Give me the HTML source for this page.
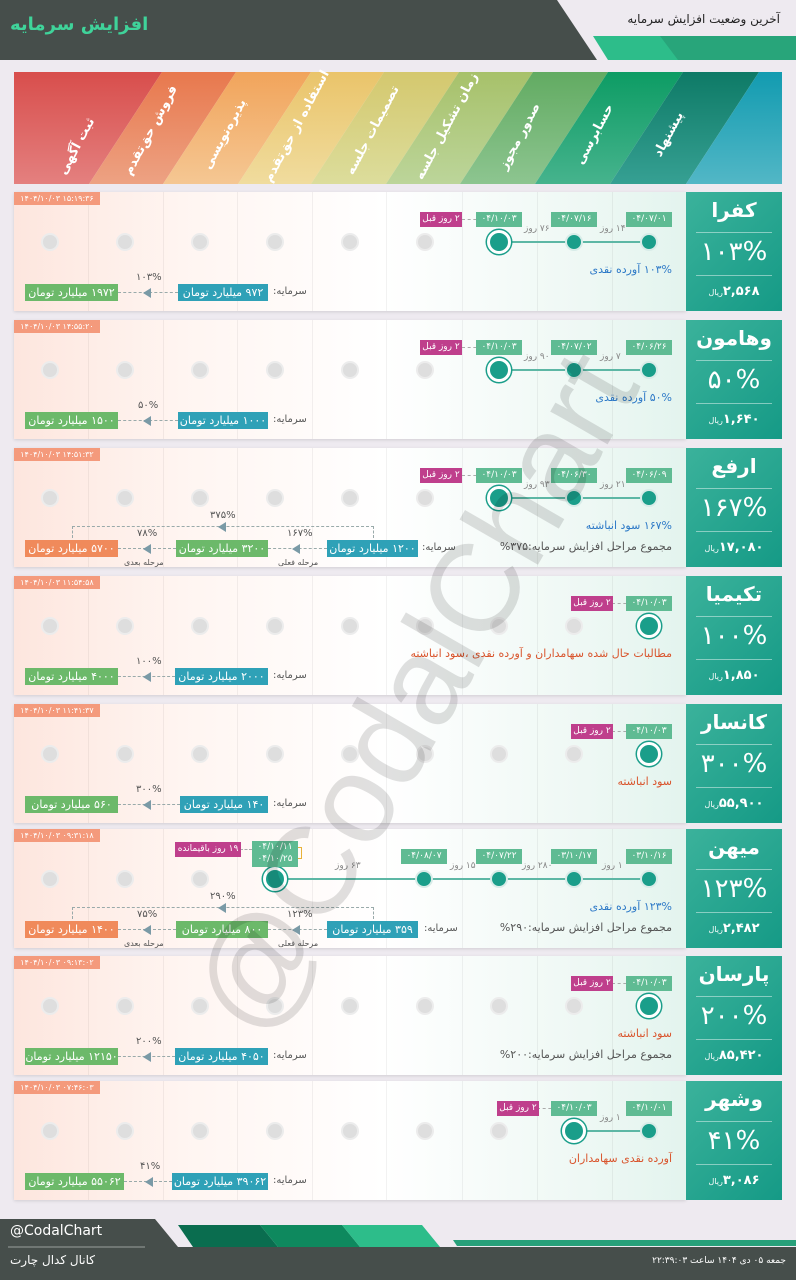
<!DOCTYPE html>
<html><head><meta charset="utf-8">
<style>
*{margin:0;padding:0;box-sizing:border-box}
body{width:796px;height:1280px;background:#eeeaf0;position:relative;overflow:hidden;font-family:"DejaVu Sans","Liberation Sans",sans-serif}
.a{position:absolute}
.card{position:absolute;left:0;width:796px;height:119px}
.bg{position:absolute;left:14px;top:0;width:672px;height:119px;background:linear-gradient(90deg,#fde6de 0%,#fff5f1 25%,#ffffff 55%,#eef8f4 85%,#e3f4ee 100%);box-shadow:0 1px 3px rgba(0,0,0,.12)}
.vl{position:absolute;top:0;width:1px;height:119px;background:rgba(0,0,0,.05)}
.box{position:absolute;left:686px;top:0;width:96px;height:119px;background:linear-gradient(135deg,#3bb29b,#159a86);color:#fff;text-align:center}
.nm{position:absolute;top:6px;left:0;width:96px;font-size:20px;font-weight:bold}
.hr{position:absolute;left:10px;width:76px;height:1px;background:rgba(255,255,255,.45)}
.pc{position:absolute;top:45px;left:0;width:96px;font-size:26px}
.pr{position:absolute;top:92px;left:0;width:96px;font-size:13px;font-weight:bold;direction:rtl}
.pr small{font-size:8px;font-weight:normal}
.ts{position:absolute;left:14px;top:0;width:86px;height:13px;background:#f49a7c;color:#fff;font-size:8px;line-height:13px;text-align:center}
.t{position:absolute;height:15px;line-height:15px;font-size:9px;color:#fff;text-align:center;white-space:nowrap;direction:rtl}
.dt{background:#5fbb93;width:46px}
.mg{background:#bf3f8c;width:42px}
.g{position:absolute;top:41px;width:18px;height:18px;border-radius:50%;background:#dedede;border:2px solid #ececec}
.d{position:absolute;top:41px;width:18px;height:18px;border-radius:50%;background:#1a9e8a;border:2px solid #d8ece8}
.b{position:absolute;top:38px;width:24px;height:24px;border-radius:50%;background:#1a9e8a;border:3px solid #fff;box-shadow:0 0 0 1.5px #1a9e8a}
.ln{position:absolute;top:49px;height:2px;background:#5db7a5}
.dl{position:absolute;font-size:9px;color:#888;top:32px;white-space:nowrap;direction:rtl}
.sm{position:absolute;right:124px;top:71px;font-size:11px;color:#2d79c7;direction:rtl;white-space:nowrap}
.sm2{position:absolute;right:124px;top:92px;font-size:11px;color:#555;direction:rtl;white-space:nowrap}
.cp{position:absolute;top:92px;height:17px;line-height:17px;font-size:11px;color:#fff;text-align:center;direction:rtl;white-space:nowrap}
.bl{background:#2fa1b7}.gr{background:#6cb96a}.or{background:#f08a5b}
.lab{position:absolute;font-size:10px;color:#555;direction:rtl;white-space:nowrap}
.ar{position:absolute;top:100px;border-top:1px dashed #9aa}
.tri{position:absolute;top:96px;width:0;height:0;border-top:5px solid transparent;border-bottom:5px solid transparent;border-right:8px solid #7a9aa6}
.sub{position:absolute;top:110px;font-size:8px;color:#555;white-space:nowrap;direction:rtl}
.cd{border-top:1px dashed #aaa;position:absolute;top:27px;height:0}
</style></head><body>

<!-- header -->
<svg class="a" style="left:0;top:0" width="796" height="62">
<polygon points="0,0 557,0 597,60 0,60" fill="#464e4b"/>
<polygon points="593,36 796,36 796,60 608,60" fill="#2dbd8a"/>
<polygon points="660,36 796,36 796,60 678,60" fill="#28a57a"/>
</svg>
<div class="a" style="left:10px;top:14px;font-size:18px;font-weight:bold;color:#3fd39a;direction:rtl">افزایش سرمایه</div>
<div class="a" style="right:16px;top:12px;font-size:12px;color:#222;direction:rtl">آخرین وضعیت افزایش سرمایه</div>

<!-- banner -->
<svg class="a" style="left:0;top:0" width="796" height="190">
<defs>
<linearGradient id="g0" x1="0" y1="0" x2="0" y2="1"><stop offset="0" stop-color="#d84e4c"/><stop offset="1" stop-color="#e4807f"/></linearGradient>
<linearGradient id="g1" x1="0" y1="0" x2="0" y2="1"><stop offset="0" stop-color="#e8784d"/><stop offset="1" stop-color="#eda283"/></linearGradient>
<linearGradient id="g2" x1="0" y1="0" x2="0" y2="1"><stop offset="0" stop-color="#f1a45b"/><stop offset="1" stop-color="#f5c793"/></linearGradient>
<linearGradient id="g3" x1="0" y1="0" x2="0" y2="1"><stop offset="0" stop-color="#eac46a"/><stop offset="1" stop-color="#f0dc9e"/></linearGradient>
<linearGradient id="g4" x1="0" y1="0" x2="0" y2="1"><stop offset="0" stop-color="#d4c86e"/><stop offset="1" stop-color="#dcdd9c"/></linearGradient>
<linearGradient id="g5" x1="0" y1="0" x2="0" y2="1"><stop offset="0" stop-color="#a7c16a"/><stop offset="1" stop-color="#bcd59a"/></linearGradient>
<linearGradient id="g6" x1="0" y1="0" x2="0" y2="1"><stop offset="0" stop-color="#62ab62"/><stop offset="1" stop-color="#8dc590"/></linearGradient>
<linearGradient id="g7" x1="0" y1="0" x2="0" y2="1"><stop offset="0" stop-color="#0d9c64"/><stop offset="1" stop-color="#46b38d"/></linearGradient>
<linearGradient id="g8" x1="0" y1="0" x2="0" y2="1"><stop offset="0" stop-color="#0e7a66"/><stop offset="1" stop-color="#36a093"/></linearGradient>
<linearGradient id="g9" x1="0" y1="0" x2="0" y2="1"><stop offset="0" stop-color="#129bb0"/><stop offset="1" stop-color="#52b7c6"/></linearGradient>
</defs>
<polygon points="14,72 162,72 89,184 14,184" fill="url(#g0)"/>
<polygon points="162,72 236,72 163,184 89,184" fill="url(#g1)"/>
<polygon points="236,72 311,72 238,184 163,184" fill="url(#g2)"/>
<polygon points="311,72 384,72 311,184 238,184" fill="url(#g3)"/>
<polygon points="384,72 459,72 386,184 311,184" fill="url(#g4)"/>
<polygon points="459,72 533,72 460,184 386,184" fill="url(#g5)"/>
<polygon points="533,72 608,72 535,184 460,184" fill="url(#g6)"/>
<polygon points="608,72 683,72 610,184 535,184" fill="url(#g7)"/>
<polygon points="683,72 759,72 686,184 610,184" fill="url(#g8)"/>
<polygon points="759,72 782,72 782,184 686,184" fill="url(#g9)"/>
<g fill="#fff" font-size="13" font-weight="bold" text-anchor="middle" font-family="DejaVu Sans,sans-serif" direction="rtl">
<text transform="translate(80,148) rotate(-62)">ثبت آگهی</text>
<text transform="translate(154,132) rotate(-62)">فروش حق‌تقدم</text>
<text transform="translate(228,136) rotate(-62)">پذیره‌نویسی</text>
<text transform="translate(300,128) rotate(-62)">استفاده از حق‌تقدم</text>
<text transform="translate(376,132) rotate(-62)">تصمیمات جلسه</text>
<text transform="translate(450,128) rotate(-62)">زمان تشکیل جلسه</text>
<text transform="translate(523,138) rotate(-62)">صدور مجوز</text>
<text transform="translate(598,136) rotate(-62)">حسابرسی</text>
<text transform="translate(672,136) rotate(-62)">پیشنهاد</text>
</g>
</svg>

<!-- CARD 1 -->
<div class="card" style="top:192px">
<div class="bg"></div>
<div class="vl" style="left:88px"></div><div class="vl" style="left:163px"></div><div class="vl" style="left:237px"></div><div class="vl" style="left:312px"></div><div class="vl" style="left:386px"></div><div class="vl" style="left:462px"></div><div class="vl" style="left:537px"></div><div class="vl" style="left:612px"></div>
<div class="ts">۱۴۰۴/۱۰/۰۳ ۱۵:۱۹:۳۶</div>
<div class="g" style="left:41px"></div><div class="g" style="left:116px"></div><div class="g" style="left:191px"></div><div class="g" style="left:266px"></div><div class="g" style="left:341px"></div><div class="g" style="left:416px"></div>
<div class="ln" style="left:499px;width:150px"></div>
<div class="b" style="left:487px"></div><div class="d" style="left:565px"></div><div class="d" style="left:640px"></div>
<div class="dl" style="left:524px">۷۶ روز</div><div class="dl" style="left:600px">۱۴ روز</div>
<div class="cd" style="left:462px;width:20px"></div>
<div class="t dt" style="left:476px;top:20px">۰۴/۱۰/۰۳</div><div class="t dt" style="left:551px;top:20px">۰۴/۰۷/۱۶</div><div class="t dt" style="left:626px;top:20px">۰۴/۰۷/۰۱</div>
<div class="t mg" style="left:420px;top:20px">۲ روز قبل</div>
<div class="sm">۱۰۳% آورده نقدی</div>
<div class="lab" style="left:273px;top:94px">سرمایه:</div>
<div class="cp bl" style="left:178px;width:90px">۹۷۲ میلیارد تومان</div>
<div class="ar" style="left:118px;width:60px"></div><div class="tri" style="left:143px"></div>
<div class="lab" style="left:136px;top:80px">۱۰۳%</div>
<div class="cp gr" style="left:25px;width:93px">۱۹۷۲ میلیارد تومان</div>
<div class="box"><div class="nm">کفرا</div><div class="hr" style="top:40px"></div><div class="pc">۱۰۳%</div><div class="hr" style="top:83px"></div><div class="pr">۲,۵۶۸<small>ریال</small></div></div>
</div>

<!-- CARD 2 -->
<div class="card" style="top:320px">
<div class="bg"></div>
<div class="vl" style="left:88px"></div><div class="vl" style="left:163px"></div><div class="vl" style="left:237px"></div><div class="vl" style="left:312px"></div><div class="vl" style="left:386px"></div><div class="vl" style="left:462px"></div><div class="vl" style="left:537px"></div><div class="vl" style="left:612px"></div>
<div class="ts">۱۴۰۴/۱۰/۰۳ ۱۴:۵۵:۲۰</div>
<div class="g" style="left:41px"></div><div class="g" style="left:116px"></div><div class="g" style="left:191px"></div><div class="g" style="left:266px"></div><div class="g" style="left:341px"></div><div class="g" style="left:416px"></div>
<div class="ln" style="left:499px;width:150px"></div>
<div class="b" style="left:487px"></div><div class="d" style="left:565px"></div><div class="d" style="left:640px"></div>
<div class="dl" style="left:524px">۹۰ روز</div><div class="dl" style="left:600px">۷ روز</div>
<div class="cd" style="left:462px;width:20px"></div>
<div class="t dt" style="left:476px;top:20px">۰۴/۱۰/۰۳</div><div class="t dt" style="left:551px;top:20px">۰۴/۰۷/۰۲</div><div class="t dt" style="left:626px;top:20px">۰۴/۰۶/۲۶</div>
<div class="t mg" style="left:420px;top:20px">۲ روز قبل</div>
<div class="sm">۵۰% آورده نقدی</div>
<div class="lab" style="left:273px;top:94px">سرمایه:</div>
<div class="cp bl" style="left:178px;width:90px">۱۰۰۰ میلیارد تومان</div>
<div class="ar" style="left:118px;width:60px"></div><div class="tri" style="left:143px"></div>
<div class="lab" style="left:138px;top:80px">۵۰%</div>
<div class="cp gr" style="left:25px;width:93px">۱۵۰۰ میلیارد تومان</div>
<div class="box"><div class="nm">وهامون</div><div class="hr" style="top:40px"></div><div class="pc">۵۰%</div><div class="hr" style="top:83px"></div><div class="pr">۱,۶۴۰<small>ریال</small></div></div>
</div>

<!-- CARD 3 -->
<div class="card" style="top:448px">
<div class="bg"></div>
<div class="vl" style="left:88px"></div><div class="vl" style="left:163px"></div><div class="vl" style="left:237px"></div><div class="vl" style="left:312px"></div><div class="vl" style="left:386px"></div><div class="vl" style="left:462px"></div><div class="vl" style="left:537px"></div><div class="vl" style="left:612px"></div>
<div class="ts">۱۴۰۴/۱۰/۰۳ ۱۴:۵۱:۳۲</div>
<div class="g" style="left:41px"></div><div class="g" style="left:116px"></div><div class="g" style="left:191px"></div><div class="g" style="left:266px"></div><div class="g" style="left:341px"></div><div class="g" style="left:416px"></div>
<div class="ln" style="left:499px;width:150px"></div>
<div class="b" style="left:487px"></div><div class="d" style="left:565px"></div><div class="d" style="left:640px"></div>
<div class="dl" style="left:524px">۹۳ روز</div><div class="dl" style="left:600px">۲۱ روز</div>
<div class="cd" style="left:462px;width:20px"></div>
<div class="t dt" style="left:476px;top:20px">۰۴/۱۰/۰۳</div><div class="t dt" style="left:551px;top:20px">۰۴/۰۶/۳۰</div><div class="t dt" style="left:626px;top:20px">۰۴/۰۶/۰۹</div>
<div class="t mg" style="left:420px;top:20px">۲ روز قبل</div>
<div class="sm">۱۶۷% سود انباشته</div>
<div class="sm2">مجموع مراحل افزایش سرمایه:۳۷۵%</div>
<div class="a" style="left:72px;top:78px;width:302px;height:12px;border:1px dashed #9aa;border-bottom:none"></div>
<div class="tri" style="left:218px;top:74px"></div>
<div class="lab" style="left:210px;top:62px">۳۷۵%</div>
<div class="lab" style="left:422px;top:94px">سرمایه:</div>
<div class="cp bl" style="left:327px;width:91px">۱۲۰۰ میلیارد تومان</div>
<div class="ar" style="left:268px;width:59px"></div><div class="tri" style="left:292px"></div>
<div class="lab" style="left:287px;top:80px">۱۶۷%</div><div class="sub" style="left:278px">مرحله فعلی</div>
<div class="cp gr" style="left:176px;width:92px">۳۲۰۰ میلیارد تومان</div>
<div class="ar" style="left:118px;width:58px"></div><div class="tri" style="left:143px"></div>
<div class="lab" style="left:137px;top:80px">۷۸%</div><div class="sub" style="left:124px">مرحله بعدی</div>
<div class="cp or" style="left:25px;width:93px">۵۷۰۰ میلیارد تومان</div>
<div class="box"><div class="nm">ارفع</div><div class="hr" style="top:40px"></div><div class="pc">۱۶۷%</div><div class="hr" style="top:83px"></div><div class="pr">۱۷,۰۸۰<small>ریال</small></div></div>
</div>

<!-- CARD 4 -->
<div class="card" style="top:576px">
<div class="bg"></div>
<div class="vl" style="left:88px"></div><div class="vl" style="left:163px"></div><div class="vl" style="left:237px"></div><div class="vl" style="left:312px"></div><div class="vl" style="left:386px"></div><div class="vl" style="left:462px"></div><div class="vl" style="left:537px"></div><div class="vl" style="left:612px"></div>
<div class="ts">۱۴۰۴/۱۰/۰۳ ۱۱:۵۴:۵۸</div>
<div class="g" style="left:41px"></div><div class="g" style="left:116px"></div><div class="g" style="left:191px"></div><div class="g" style="left:266px"></div><div class="g" style="left:341px"></div><div class="g" style="left:416px"></div><div class="g" style="left:490px"></div><div class="g" style="left:565px"></div>
<div class="b" style="left:637px"></div>
<div class="cd" style="left:612px;width:20px"></div>
<div class="t dt" style="left:626px;top:20px">۰۴/۱۰/۰۳</div>
<div class="t mg" style="left:571px;top:20px">۲ روز قبل</div>
<div class="sm" style="color:#d9542c">مطالبات حال شده سهامداران و آورده نقدی ،سود انباشته</div>
<div class="lab" style="left:273px;top:94px">سرمایه:</div>
<div class="cp bl" style="left:175px;width:93px">۲۰۰۰ میلیارد تومان</div>
<div class="ar" style="left:118px;width:57px"></div><div class="tri" style="left:143px"></div>
<div class="lab" style="left:136px;top:80px">۱۰۰%</div>
<div class="cp gr" style="left:25px;width:93px">۴۰۰۰ میلیارد تومان</div>
<div class="box"><div class="nm">تکیمیا</div><div class="hr" style="top:40px"></div><div class="pc">۱۰۰%</div><div class="hr" style="top:83px"></div><div class="pr">۱,۸۵۰<small>ریال</small></div></div>
</div>

<!-- CARD 5 -->
<div class="card" style="top:704px">
<div class="bg"></div>
<div class="vl" style="left:88px"></div><div class="vl" style="left:163px"></div><div class="vl" style="left:237px"></div><div class="vl" style="left:312px"></div><div class="vl" style="left:386px"></div><div class="vl" style="left:462px"></div><div class="vl" style="left:537px"></div><div class="vl" style="left:612px"></div>
<div class="ts">۱۴۰۴/۱۰/۰۳ ۱۱:۴۱:۳۷</div>
<div class="g" style="left:41px"></div><div class="g" style="left:116px"></div><div class="g" style="left:191px"></div><div class="g" style="left:266px"></div><div class="g" style="left:341px"></div><div class="g" style="left:416px"></div><div class="g" style="left:490px"></div><div class="g" style="left:565px"></div>
<div class="b" style="left:637px"></div>
<div class="cd" style="left:612px;width:20px"></div>
<div class="t dt" style="left:626px;top:20px">۰۴/۱۰/۰۳</div>
<div class="t mg" style="left:571px;top:20px">۲ روز قبل</div>
<div class="sm" style="color:#d9542c">سود انباشته</div>
<div class="lab" style="left:273px;top:94px">سرمایه:</div>
<div class="cp bl" style="left:180px;width:88px">۱۴۰ میلیارد تومان</div>
<div class="ar" style="left:118px;width:62px"></div><div class="tri" style="left:143px"></div>
<div class="lab" style="left:136px;top:80px">۳۰۰%</div>
<div class="cp gr" style="left:25px;width:93px">۵۶۰ میلیارد تومان</div>
<div class="box"><div class="nm">کانسار</div><div class="hr" style="top:40px"></div><div class="pc">۳۰۰%</div><div class="hr" style="top:83px"></div><div class="pr">۵۵,۹۰۰<small>ریال</small></div></div>
</div>

<!-- CARD 6 -->
<div class="card" style="top:829px">
<div class="bg"></div>
<div class="vl" style="left:88px"></div><div class="vl" style="left:163px"></div><div class="vl" style="left:237px"></div><div class="vl" style="left:312px"></div><div class="vl" style="left:386px"></div><div class="vl" style="left:462px"></div><div class="vl" style="left:537px"></div><div class="vl" style="left:612px"></div>
<div class="ts">۱۴۰۴/۱۰/۰۳ ۰۹:۳۱:۱۸</div>
<div class="g" style="left:41px"></div><div class="g" style="left:116px"></div><div class="g" style="left:191px"></div>
<div class="ln" style="left:275px;width:374px"></div>
<div class="b" style="left:263px"></div><div class="d" style="left:415px"></div><div class="d" style="left:490px"></div><div class="d" style="left:565px"></div><div class="d" style="left:640px"></div>
<div class="dl" style="left:335px">۶۳ روز</div><div class="dl" style="left:450px">۱۵ روز</div><div class="dl" style="left:522px">۲۸۰ روز</div><div class="dl" style="left:602px">۱ روز</div>
<div class="t dt" style="left:252px;top:12px;height:26px;line-height:12px;font-size:9px">۰۴/۱۰/۱۱<br>۰۴/۱۰/۲۵</div>
<div class="a" style="left:298px;top:18px;width:4px;height:12px;border:1px solid #e8b23a;border-left:none"></div>
<div class="cd" style="left:240px;width:12px;top:20px"></div>
<div class="t" style="left:175px;top:13px;width:66px;background:#bf3f8c">۱۹ روز باقیمانده</div>
<div class="t dt" style="left:401px;top:20px">۰۴/۰۸/۰۷</div><div class="t dt" style="left:476px;top:20px">۰۴/۰۷/۲۲</div><div class="t dt" style="left:551px;top:20px">۰۳/۱۰/۱۷</div><div class="t dt" style="left:626px;top:20px">۰۳/۱۰/۱۶</div>
<div class="sm">۱۲۳% آورده نقدی</div>
<div class="sm2">مجموع مراحل افزایش سرمایه:۲۹۰%</div>
<div class="a" style="left:72px;top:78px;width:302px;height:12px;border:1px dashed #9aa;border-bottom:none"></div>
<div class="tri" style="left:218px;top:74px"></div>
<div class="lab" style="left:210px;top:62px">۲۹۰%</div>
<div class="lab" style="left:424px;top:94px">سرمایه:</div>
<div class="cp bl" style="left:327px;width:91px">۳۵۹ میلیارد تومان</div>
<div class="ar" style="left:268px;width:59px"></div><div class="tri" style="left:292px"></div>
<div class="lab" style="left:287px;top:80px">۱۲۳%</div><div class="sub" style="left:278px">مرحله فعلی</div>
<div class="cp gr" style="left:176px;width:92px">۸۰۰ میلیارد تومان</div>
<div class="ar" style="left:118px;width:58px"></div><div class="tri" style="left:143px"></div>
<div class="lab" style="left:137px;top:80px">۷۵%</div><div class="sub" style="left:124px">مرحله بعدی</div>
<div class="cp or" style="left:25px;width:93px">۱۴۰۰ میلیارد تومان</div>
<div class="box"><div class="nm">میهن</div><div class="hr" style="top:40px"></div><div class="pc">۱۲۳%</div><div class="hr" style="top:83px"></div><div class="pr">۲,۴۸۲<small>ریال</small></div></div>
</div>

<!-- CARD 7 -->
<div class="card" style="top:956px">
<div class="bg"></div>
<div class="vl" style="left:88px"></div><div class="vl" style="left:163px"></div><div class="vl" style="left:237px"></div><div class="vl" style="left:312px"></div><div class="vl" style="left:386px"></div><div class="vl" style="left:462px"></div><div class="vl" style="left:537px"></div><div class="vl" style="left:612px"></div>
<div class="ts">۱۴۰۴/۱۰/۰۳ ۰۹:۱۳:۰۲</div>
<div class="g" style="left:41px"></div><div class="g" style="left:116px"></div><div class="g" style="left:191px"></div><div class="g" style="left:266px"></div><div class="g" style="left:341px"></div><div class="g" style="left:416px"></div><div class="g" style="left:490px"></div><div class="g" style="left:565px"></div>
<div class="b" style="left:637px"></div>
<div class="cd" style="left:612px;width:20px"></div>
<div class="t dt" style="left:626px;top:20px">۰۴/۱۰/۰۳</div>
<div class="t mg" style="left:571px;top:20px">۲ روز قبل</div>
<div class="sm" style="color:#d9542c">سود انباشته</div>
<div class="sm2">مجموع مراحل افزایش سرمایه:۲۰۰%</div>
<div class="lab" style="left:273px;top:94px">سرمایه:</div>
<div class="cp bl" style="left:175px;width:93px">۴۰۵۰ میلیارد تومان</div>
<div class="ar" style="left:118px;width:57px"></div><div class="tri" style="left:143px"></div>
<div class="lab" style="left:136px;top:80px">۲۰۰%</div>
<div class="cp gr" style="left:25px;width:93px">۱۲۱۵۰ میلیارد تومان</div>
<div class="box"><div class="nm">پارسان</div><div class="hr" style="top:40px"></div><div class="pc">۲۰۰%</div><div class="hr" style="top:83px"></div><div class="pr">۸۵,۴۲۰<small>ریال</small></div></div>
</div>

<!-- CARD 8 -->
<div class="card" style="top:1081px">
<div class="bg"></div>
<div class="vl" style="left:88px"></div><div class="vl" style="left:163px"></div><div class="vl" style="left:237px"></div><div class="vl" style="left:312px"></div><div class="vl" style="left:386px"></div><div class="vl" style="left:462px"></div><div class="vl" style="left:537px"></div><div class="vl" style="left:612px"></div>
<div class="ts">۱۴۰۴/۱۰/۰۳ ۰۷:۴۶:۰۳</div>
<div class="g" style="left:41px"></div><div class="g" style="left:116px"></div><div class="g" style="left:191px"></div><div class="g" style="left:266px"></div><div class="g" style="left:341px"></div><div class="g" style="left:416px"></div><div class="g" style="left:490px"></div>
<div class="ln" style="left:574px;width:75px"></div>
<div class="b" style="left:562px"></div><div class="d" style="left:640px"></div>
<div class="dl" style="left:600px">۱ روز</div>
<div class="cd" style="left:537px;width:20px"></div>
<div class="t dt" style="left:551px;top:20px">۰۴/۱۰/۰۳</div><div class="t dt" style="left:626px;top:20px">۰۴/۱۰/۰۱</div>
<div class="t mg" style="left:497px;top:20px">۲ روز قبل</div>
<div class="sm" style="color:#d9542c">آورده نقدی سهامداران</div>
<div class="lab" style="left:273px;top:94px">سرمایه:</div>
<div class="cp bl" style="left:172px;width:96px">۳۹۰۶۲ میلیارد تومان</div>
<div class="ar" style="left:124px;width:48px"></div><div class="tri" style="left:145px"></div>
<div class="lab" style="left:140px;top:80px">۴۱%</div>
<div class="cp gr" style="left:25px;width:99px">۵۵۰۶۲ میلیارد تومان</div>
<div class="box"><div class="nm">وشهر</div><div class="hr" style="top:40px"></div><div class="pc">۴۱%</div><div class="hr" style="top:83px"></div><div class="pr">۳,۰۸۶<small>ریال</small></div></div>
</div>

<!-- watermark -->
<div class="a" style="left:40px;top:630px;width:740px;text-align:center;font-size:125px;color:rgba(0,0,0,.12);transform:rotate(-60deg);font-family:'Liberation Sans',sans-serif;white-space:nowrap">@CodalChart</div>

<!-- footer -->
<svg class="a" style="left:0;top:1205px" width="796" height="75">
<polygon points="0,14 155,14 178,42 796,42 796,75 0,75" fill="#464e4b"/>
<polygon points="178,20 260,20 278,42 193,42" fill="#0a6d4f"/>
<polygon points="260,20 342,20 360,42 278,42" fill="#0e895e"/>
<polygon points="342,20 422,20 440,42 360,42" fill="#2dbd8a"/>
<polygon points="453,35 796,35 796,41 457,41" fill="#27a07a"/>
<line x1="8" y1="42" x2="145" y2="42" stroke="#9aa09e" stroke-width="1"/>
</svg>
<div class="a" style="left:10px;top:1223px;font-size:14px;color:#fff">@CodalChart</div>
<div class="a" style="left:10px;top:1253px;font-size:12px;color:#fff;direction:rtl">کانال کدال چارت</div>
<div class="a" style="right:10px;top:1256px;font-size:9px;color:#fff;direction:rtl">جمعه ۰۵ دی ۱۴۰۴ ساعت ۲۲:۳۹:۰۳</div>
</body></html>
